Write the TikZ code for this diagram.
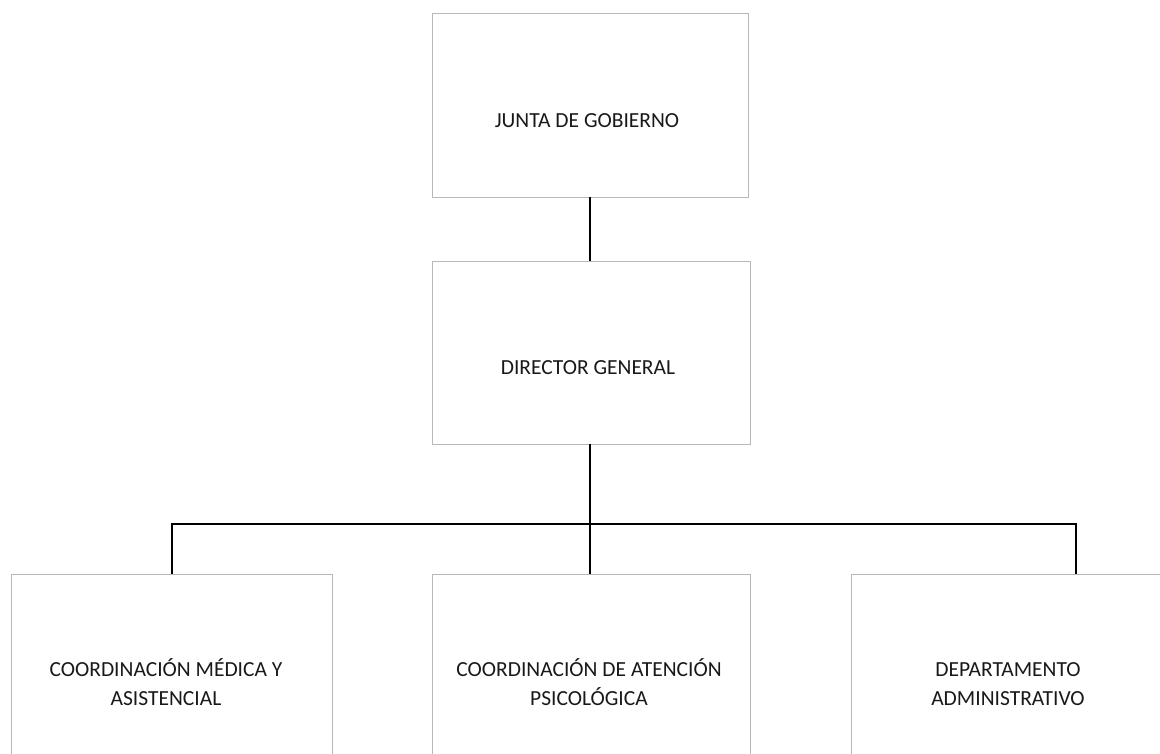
\documentclass[tikz,border=0pt]{standalone}
\usepackage{fontspec}
\setmainfont{Carlito}
\begin{document}
\begin{tikzpicture}[x=1pt,y=1pt,
  box/.style={draw=black!28, line width=0.6pt, rectangle, inner sep=0pt},
  lbl/.style={align=center, font=\fontsize{21.5}{29}\selectfont, text=black!90, inner sep=0pt},
  conn/.style={draw=black, line width=1.4pt}]
\useasboundingbox (0,0) rectangle (1160,-753);
\clip (0,0) rectangle (1160,-753);
\fill[white] (0,0) rectangle (1160,-753);
% boxes
\node[box, minimum width=316, minimum height=184] (top) at (590,-105) {};
\node[box, minimum width=318, minimum height=183] (mid) at (591,-352.5) {};
\node[box, minimum width=321, minimum height=216, anchor=north west] (bl) at (11,-574) {};
\node[box, minimum width=318, minimum height=216, anchor=north west] (bm) at (432,-574) {};
\node[box, minimum width=320, minimum height=216, anchor=north west] (br) at (851,-574) {};
% labels
\node[lbl] (ttop) at (587,-121) {JUNTA DE GOBIERNO};
\node[lbl] (tmid) at (588,-368) {DIRECTOR GENERAL};
\node[lbl] (tbl) at (166,-682) {COORDINACIÓN MÉDICA Y\\ASISTENCIAL};
\node[lbl] (tbm) at (589,-682.5) {COORDINACIÓN DE ATENCIÓN\\PSICOLÓGICA};
\node[lbl] (tbr) at (1008,-684) {DEPARTAMENTO\\ADMINISTRATIVO};
% connectors
\coordinate (busL) at (172,-524);
\coordinate (busR) at (1076,-524);
\coordinate (busM) at (590,-524);
\draw[conn] (top.south -| 590,0) -- (mid.north -| 590,0);
\draw[conn] (mid.south -| 590,0) -- (bm.north -| 590,0);
\draw[conn] (bl.north -| busL) -- (busL) -- (busR) -- (br.north -| busR);
\end{tikzpicture}
\end{document}
